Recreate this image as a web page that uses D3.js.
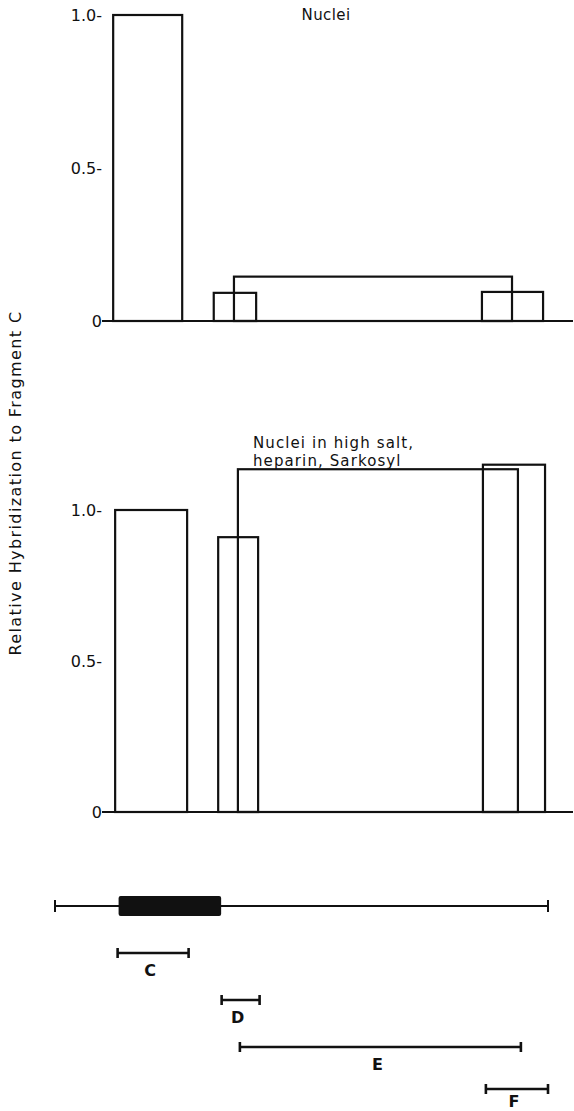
<!DOCTYPE html>
<html>
<head>
<meta charset="utf-8">
<script src="https://cdn.jsdelivr.net/npm/d3@7"></script>
<style>
  html, body { margin: 0; padding: 0; background: #fff; }
  svg { display: block; }
  text { font-family: "DejaVu Sans", sans-serif; fill: #111; }
</style>
</head>
<body>
<svg id="chart" width="574" height="1111"></svg>
<script>
// ---------- DATA ----------
const fragments = ["C", "D", "E", "F"];
// map coordinates (arbitrary map units, 0..100 along the restriction map)
const fragStart = [12.7, 33.8, 37.5, 87.4];
const fragEnd   = [27.1, 41.5, 94.5, 100.0];
const geneStart = 12.9;
const geneEnd   = 33.7;
const mapStart  = 0;
const mapEnd    = 100;

// bars (map units) and values, panel 1: Nuclei
const nucleiStart  = [11.8, 32.2, 36.3, 86.6];
const nucleiEnd    = [25.8, 40.8, 92.7, 99.0];
const nucleiValues = [1.0, 0.092, 0.145, 0.095];

// panel 2: Nuclei in high salt, heparin, Sarkosyl
const saltStart  = [12.2, 33.1, 37.1, 86.8];
const saltEnd    = [26.8, 41.2, 93.9, 99.4];
const saltValues = [1.0, 0.91, 1.135, 1.15];

const tickValues = [0, 0.5, 1.0];
const tickLabels = ["0", "0.5-", "1.0-"];

const yTitle = "Relative Hybridization to Fragment C";
const title1 = ["Nuclei"];
const title2 = ["Nuclei in high salt,", "heparin, Sarkosyl"];

// ---------- DRAW ----------
const svg = d3.select("#chart");
const x = d3.scaleLinear().domain([mapStart, mapEnd]).range([55, 548]);
const axisLeftX = 102, axisRightX = 573;

function panel(yTop, yZero, starts, ends, values, titleLines, titleX, titleY, titleAnchor, spacing) {
  const y = d3.scaleLinear().domain([0, 1]).range([yZero, yTop]);
  const g = svg.append("g");
  // tick labels
  const ax = d3.axisLeft(y).tickValues(tickValues).tickSize(0).tickPadding(0)
    .tickFormat((d, i) => tickLabels[i]);
  const ag = g.append("g").attr("transform", `translate(${axisLeftX},0)`).call(ax);
  ag.select(".domain").remove();
  ag.selectAll("text").style("font-family", '"DejaVu Sans", sans-serif')
    .style("font-size", "16px").attr("fill", "#111").attr("dy", "0.35em");
  // bars
  g.selectAll("rect.bar").data(values).enter().append("rect")
    .attr("class", "bar")
    .attr("x", (d, i) => x(starts[i]))
    .attr("width", (d, i) => x(ends[i]) - x(starts[i]))
    .attr("y", d => y(d))
    .attr("height", d => yZero - y(d))
    .attr("fill", "none").attr("stroke", "#111").attr("stroke-width", 2.2);
  // baseline
  g.append("line").attr("x1", axisLeftX).attr("x2", axisRightX)
    .attr("y1", yZero).attr("y2", yZero)
    .attr("stroke", "#111").attr("stroke-width", 2.2);
  // title
  const t = g.append("text").attr("x", titleX).attr("y", titleY)
    .attr("text-anchor", titleAnchor).style("font-size", "15px")
    .style("letter-spacing", spacing);
  titleLines.forEach((l, i) => {
    t.append("tspan").attr("x", titleX).attr("dy", i === 0 ? 0 : 18).text(l);
  });
}

panel(15, 321, nucleiStart, nucleiEnd, nucleiValues, title1, 326, 20, "middle", "0.4px");
panel(510, 812, saltStart, saltEnd, saltValues, title2, 253, 448, "start", "1.1px");

// y title
svg.append("text")
  .attr("transform", "translate(21,483) rotate(-90)")
  .attr("text-anchor", "middle")
  .style("font-size", "16px")
  .style("letter-spacing", "1.4px")
  .text(yTitle);

// ---------- MAP ----------
const mapY = 906;
const mg = svg.append("g");
mg.append("line").attr("x1", x(mapStart)).attr("x2", x(mapEnd))
  .attr("y1", mapY).attr("y2", mapY).attr("stroke", "#111").attr("stroke-width", 2);
[mapStart, mapEnd].forEach(v => {
  mg.append("line").attr("x1", x(v)).attr("x2", x(v))
    .attr("y1", mapY - 6).attr("y2", mapY + 6).attr("stroke", "#111").attr("stroke-width", 2);
});
mg.append("rect").attr("x", x(geneStart)).attr("width", x(geneEnd) - x(geneStart))
  .attr("y", mapY - 10).attr("height", 20).attr("rx", 2)
  .attr("fill", "#111");

const fragY = [953, 1000, 1047, 1089];
const fg = mg.selectAll("g.frag").data(fragments).enter().append("g").attr("class", "frag");
fg.append("line")
  .attr("x1", (d, i) => x(fragStart[i])).attr("x2", (d, i) => x(fragEnd[i]))
  .attr("y1", (d, i) => fragY[i]).attr("y2", (d, i) => fragY[i])
  .attr("stroke", "#111").attr("stroke-width", 2.6);
fg.append("line")
  .attr("x1", (d, i) => x(fragStart[i])).attr("x2", (d, i) => x(fragStart[i]))
  .attr("y1", (d, i) => fragY[i] - 5).attr("y2", (d, i) => fragY[i] + 5)
  .attr("stroke", "#111").attr("stroke-width", 2.6);
fg.append("line")
  .attr("x1", (d, i) => x(fragEnd[i])).attr("x2", (d, i) => x(fragEnd[i]))
  .attr("y1", (d, i) => fragY[i] - 5).attr("y2", (d, i) => fragY[i] + 5)
  .attr("stroke", "#111").attr("stroke-width", 2.6);
fg.append("text")
  .attr("x", (d, i) => (x(fragStart[i]) + x(fragEnd[i])) / 2 - 3)
  .attr("y", (d, i) => Math.min(fragY[i] + 23, 1107))
  .attr("text-anchor", "middle")
  .style("font-size", "16px").style("font-weight", "bold")
  .text(d => d);
</script>
</body>
</html>
